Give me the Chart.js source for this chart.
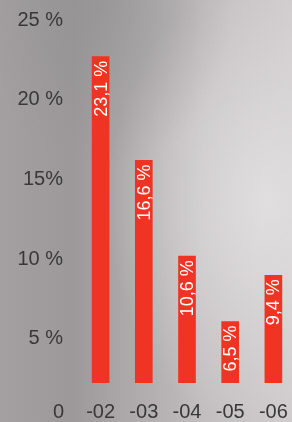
<!DOCTYPE html>
<html><head><meta charset="utf-8">
<script src="https://cdn.jsdelivr.net/npm/chart.js@4.4.1/dist/chart.umd.min.js"></script>
<style>
html,body{margin:0;padding:0;width:292px;height:422px;overflow:hidden;}
body{
  background:
    radial-gradient(ellipse 45% 40% at 35% 0%, rgba(140,140,140,0.5) 0%, rgba(140,140,140,0) 100%),
    radial-gradient(ellipse 55% 55% at 92% 48%, rgba(224,222,223,1) 0%, rgba(224,222,223,0) 100%),
    linear-gradient(90deg, #a4a0a1 0%, #9d999a 25%, #aeaaab 45%, #c2bebf 70%, #cfcbcc 100%);
}
#wrap{position:absolute;left:0;top:0;width:300px;height:422px;}
</style></head><body>
<div id="wrap"><canvas id="c" width="300" height="422" style="width:300px;height:422px"></canvas></div>
<script>
const categories = ['-02','-03','-04','-05','-06'];
const values = [23.1, 16.6, 10.6, 6.5, 9.4];
const valueLabels = ['23,1 %','16,6 %','10,6 %','6,5 %','9,4 %'];
const yTickValues = [5, 10, 15, 20, 25];
const yTickLabels = ['5 %','10 %','15%','20 %','25 %'];
const yZeroLabel = '0';

const FONT = '"Liberation Sans", Arial, Helvetica, sans-serif';
const TEXT = '#383838';

const barLabelPlugin = {
  id: 'barLabels',
  afterDatasetsDraw(chart) {
    const ctx = chart.ctx;
    const meta = chart.getDatasetMeta(0);
    ctx.save();
    ctx.fillStyle = '#ffffff';
    ctx.font = '18px ' + FONT;
    ctx.textAlign = 'right';
    ctx.textBaseline = 'middle';
    meta.data.forEach((bar, i) => {
      ctx.save();
      ctx.translate(bar.x + 1, bar.y + 4);
      ctx.rotate(-Math.PI / 2);
      ctx.fillText(valueLabels[i], 0, 0);
      ctx.restore();
    });
    ctx.restore();
  }
};

const zeroLabelPlugin = {
  id: 'zeroLabel',
  afterDraw(chart) {
    const ctx = chart.ctx;
    const xs = chart.scales.x;
    const ys = chart.scales.y;
    ctx.save();
    ctx.fillStyle = TEXT;
    ctx.font = '20px ' + FONT;
    ctx.textAlign = 'right';
    ctx.textBaseline = 'middle';
    ctx.fillText(yZeroLabel, ys.right - ys.options.ticks.padding + 1, xs.top + 29);
    ctx.restore();
  }
};

new Chart(document.getElementById('c'), {
  type: 'bar',
  data: {
    labels: categories,
    datasets: [{
      data: values,
      yAxisID: 'yBars',
      backgroundColor: '#ef3424',
      borderWidth: 0,
      barThickness: 17
    }]
  },
  options: {
    responsive: false,
    animation: false,
    devicePixelRatio: 1,
    layout: { padding: { top: 20, right: 5, bottom: 0, left: 0 } },
    plugins: { legend: { display: false }, tooltip: { enabled: false } },
    scales: {
      x: {
        grid: { display: false, drawTicks: false },
        border: { display: false },
        ticks: { color: TEXT, font: { family: FONT, size: 20 }, padding: 17, maxRotation: 0, autoSkip: false },
        afterFit(s) { s.height = 39; s.paddingLeft = 0; s.paddingRight = 0; }
      },
      y: {
        min: 2.24,
        max: 25,
        grid: { display: false, drawTicks: false },
        border: { display: false },
        afterBuildTicks(s) { s.ticks = yTickValues.map(v => ({ value: v })); },
        ticks: {
          color: TEXT,
          font: { family: FONT, size: 20 },
          padding: 16,
          callback: (v) => yTickLabels[yTickValues.indexOf(v)]
        },
        afterFit(s) { s.width = 79; s.paddingTop = 0; s.paddingBottom = 0; }
      },
      yBars: {
        display: false,
        min: 2.65,
        max: 25.4
      }
    }
  },
  plugins: [barLabelPlugin, zeroLabelPlugin]
});
</script>
</body></html>
